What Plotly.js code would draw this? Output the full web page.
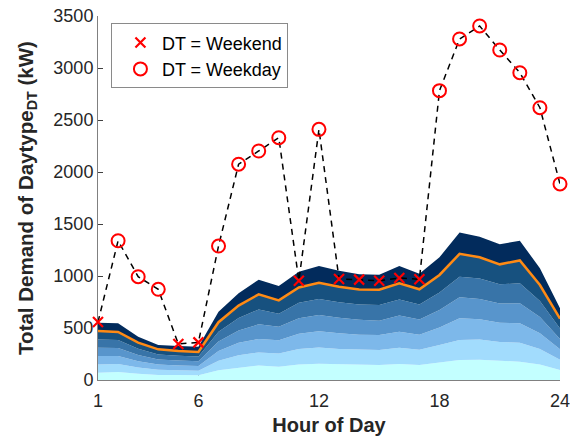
<!DOCTYPE html>
<html>
<head>
<meta charset="utf-8">
<script src="https://cdn.plot.ly/plotly-3.0.1.min.js"></script>
<style>
  html, body { margin: 0; padding: 0; background: #ffffff; }
  #chart { width: 570px; height: 441px; }
</style>
</head>
<body>
<div id="chart"></div>
<script>
// Hours of the day
const hours = [1,2,3,4,5,6,7,8,9,10,11,12,13,14,15,16,17,18,19,20,21,22,23,24];

// Stacked demand band levels (kW), lowest band first
const level1 = [70,77,60,49,47,45,93,119,140,128,148,156,150,145,144,155,145,168,192,195,182,176,148,95];
const level2 = [150,154,120,98,93,90,185,239,265,255,297,312,299,290,288,310,291,337,385,390,365,359,298,195];
const level3 = [230,231,180,148,140,135,278,358,395,383,445,468,449,435,433,465,436,505,593,585,550,545,450,295];
const level4 = [310,308,240,197,187,180,371,477,535,511,593,624,598,580,570,619,581,673,795,780,735,737,605,395];
const level5 = [390,385,300,246,233,225,463,597,678,638,742,780,748,725,721,774,727,842,993,975,920,930,760,495];
// Mean demand (orange line) = top of the sixth band
const meanDemand = [470,462,360,295,280,270,556,716,824,766,890,936,897,870,868,929,872,1010,1213,1180,1112,1150,913,590];
// Upper envelope of the bands
const upperDemand = [551,545,415,337,327,320,657,833,965,905,1041,1097,1050,1016,1012,1096,1022,1180,1418,1378,1305,1340,1074,690];

// Total demand of the day type, per hour
const totalDemand = [558,1339,993,872,346,362,1288,2075,2202,2330,955,2410,971,965,955,981,968,2782,3279,3404,3173,2955,2618,1885];
const dayType = ['Weekend','Weekday','Weekday','Weekday','Weekend','Weekend','Weekday','Weekday','Weekday','Weekday','Weekend','Weekday',
                 'Weekend','Weekend','Weekend','Weekend','Weekend','Weekday','Weekday','Weekday','Weekday','Weekday','Weekday','Weekday'];

const bandLevels = [level1, level2, level3, level4, level5, meanDemand, upperDemand];
const bandColors = ['#c3ffff','#a2dcfd','#7db8ea','#5895cc','#3874a8','#17517f','#022b5c'];

const traces = [];
bandLevels.forEach((lv, i) => {
  traces.push({
    x: hours, y: lv, type: 'scatter', mode: 'lines',
    line: {width: 0, color: bandColors[i]},
    fill: i === 0 ? 'tozeroy' : 'tonexty',
    fillcolor: bandColors[i],
    showlegend: false, hoverinfo: 'skip'
  });
});

traces.push({
  x: hours, y: meanDemand, type: 'scatter', mode: 'lines',
  line: {color: '#ff8a14', width: 2.5},
  showlegend: false
});

traces.push({
  x: hours, y: totalDemand, type: 'scatter', mode: 'lines',
  line: {color: '#000000', width: 1.5, dash: '6px,5px'},
  showlegend: false, cliponaxis: false
});

function pick(kind) {
  const xs = [], ys = [];
  hours.forEach((h, i) => { if (dayType[i] === kind) { xs.push(h); ys.push(totalDemand[i]); } });
  return {xs, ys};
}
const we = pick('Weekend');
const wd = pick('Weekday');

traces.push({
  x: we.xs, y: we.ys, type: 'scatter', mode: 'markers', name: 'DT = Weekend',
  cliponaxis: false,
  marker: {symbol: 'x-thin-open', size: 10, color: '#ff0000', line: {color: '#ff0000', width: 2.2}}
});
traces.push({
  x: wd.xs, y: wd.ys, type: 'scatter', mode: 'markers', name: 'DT = Weekday',
  cliponaxis: false,
  marker: {symbol: 'circle-open', size: 13, color: '#ff0000', line: {color: '#ff0000', width: 2}}
});

const fontFam = 'Arial, "Liberation Sans", Helvetica, sans-serif';

const layout = {
  width: 570, height: 441,
  margin: {l: 98, r: 10, t: 16, b: 61},
  paper_bgcolor: '#ffffff', plot_bgcolor: '#ffffff',
  font: {family: fontFam, color: '#262626', size: 18},
  showlegend: true,
  legend: {
    x: 0.028, y: 0.98, xanchor: 'left', yanchor: 'top',
    traceorder: 'normal',
    bgcolor: '#ffffff', bordercolor: '#8a8a8a', borderwidth: 1,
    font: {family: fontFam, size: 18, color: '#000000'},
    itemwidth: 33, indentation: 7, tracegroupgap: 0
  },
  xaxis: {
    range: [1, 24], tickmode: 'array', tickvals: [1, 6, 12, 18, 24],
    ticks: 'inside', ticklen: 5, tickcolor: '#404040',
    ticklabelstandoff: 4, ticklabeloverflow: 'allow',
    showline: true, linecolor: '#808080', linewidth: 1,
    showgrid: false, zeroline: false, layer: 'below traces',
    tickfont: {size: 18, color: '#262626'},
    title: {text: '<b>Hour of Day</b>', font: {size: 20, color: '#262626'}, standoff: 8}
  },
  yaxis: {
    range: [0, 3500], tickmode: 'array', tickvals: [0,500,1000,1500,2000,2500,3000,3500],
    ticks: 'inside', ticklen: 5, tickcolor: '#404040',
    showline: true, linecolor: '#808080', linewidth: 1,
    showgrid: false, zeroline: false, layer: 'below traces',
    tickfont: {size: 18, color: '#262626'},
    title: {text: '<b>Total Demand of Daytype<sub>DT</sub> (kW)</b>', font: {size: 20.5, color: '#262626'}, standoff: 14}
  }
};

Plotly.newPlot('chart', traces, layout, {staticPlot: true, displayModeBar: false});
</script>
</body>
</html>
